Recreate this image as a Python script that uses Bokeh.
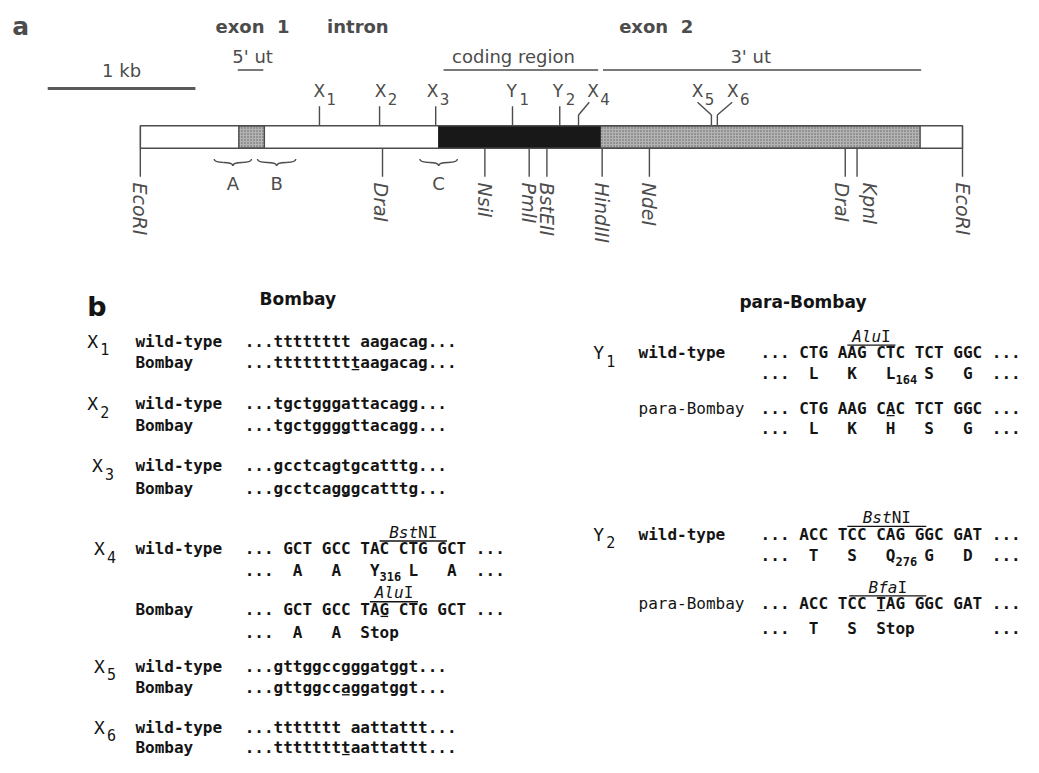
import numpy as np
from bokeh.plotting import figure
from bokeh.layouts import column
from bokeh.models import Range1d
from bokeh.core.properties import value
from bokeh.embed import file_html
from bokeh.resources import INLINE

# ---------------- data: gene map (positions in kb from the 5' EcoRI site) ----------------
gene_span = [0.0, 5.567]
exon1_box = [0.667, 0.840]
coding_box = [2.020, 3.113]
utr3_box = [3.113, 5.280]

region_names = ["5' ut", "coding region", "3' ut"]
region_start = [0.660, 2.053, 3.133]
region_end = [0.833, 3.100, 5.287]
region_label_pos = [0.760, 2.527, 4.133]

exon_labels = ["exon  1", "intron", "exon  2"]
exon_label_pos = [0.760, 1.473, 3.493]

site_names = ["EcoRI", "DraI", "NsiI", "PmlI", "BstEII", "HindIII", "NdeI", "DraI", "KpnI", "EcoRI"]
site_pos = [0.000, 1.640, 2.333, 2.633, 2.753, 3.127, 3.447, 4.773, 4.853, 5.567]
site_label_pos = [0.000, 1.633, 2.333, 2.633, 2.753, 3.127, 3.447, 4.753, 4.940, 5.573]

mut_letters = ["X", "X", "X", "Y", "Y", "X", "X", "X"]
mut_subs = ["1", "2", "3", "1", "2", "4", "5", "6"]
mut_pos = [1.213, 1.620, 2.000, 2.520, 2.840, 2.967, 3.867, 3.907]
mut_tip = [1.213, 1.620, 2.000, 2.520, 2.840, 3.040, 3.773, 4.007]
mut_label_pos = [1.173, 1.587, 1.940, 2.480, 2.793, 3.027, 3.733, 3.973]

probe_names = ["A", "B", "C"]
probe_start = [0.500, 0.793, 1.893]
probe_end = [0.753, 1.053, 2.147]

scale_bar = [-0.627, 0.373]   # 1 kb

# ---------------- data: sequences ----------------
bombay_subs = ["1", "2", "3", "4", "5", "6"]
bombay_wt = ["...tttttttt aagacag...", "...tgctgggattacagg...", "...gcctcagtgcatttg...",
             "... GCT GCC TAC CTG GCT ...", "...gttggccgggatggt...", "...ttttttt aattattt..."]
bombay_mut = ["...tttttttttaagacag...", "...tgctggggttacagg...", "...gcctcagggcatttg...",
              "... GCT GCC TAG CTG GCT ...", "...gttggccaggatggt...", "...ttttttttaattattt..."]
bombay_mut_idx = [11, 10, 10, 14, 10, 10]
x4_wt_aa = "...  A   A   Y   L   A  ..."
x4_wt_aa_sub = "316"
x4_mut_aa = "...  A   A  Stop"

para_subs = ["1", "2"]
para_wt = ["... CTG AAG CTC TCT GGC ...", "... ACC TCC CAG GGC GAT ..."]
para_wt_aa = ["...  L   K   L   S   G  ...", "...  T   S   Q   G   D  ..."]
para_wt_aa_sub = ["164", "276"]
para_mut = ["... CTG AAG CAC TCT GGC ...", "... ACC TCC TAG GGC GAT ..."]
para_mut_aa = ["...  L   K   H   S   G  ...", "...  T   S  Stop        ..."]
para_mut_idx = [13, 12]

# restriction sites on sequences: (italic part, roman part, first char, last char)
enz_italic = ["Bst", "Alu", "Alu", "Bst", "Bfa"]
enz_roman = ["NI", "I", "I", "NI", "I"]
enz_from = [14.0, 13.0, 9.0, 9.0, 9.2]
enz_to = [21.0, 18.0, 14.0, 17.2, 17.2]

# ---------------- styling / layout ----------------
GREY = "#4c4c4c"
INK = "#141414"
SANS = "DejaVu Sans"
MONO = "DejaVu Sans Mono"
NB = "\u00a0"

def nb(texts):
    return [t.replace(" ", NB) for t in texts]

W = 1023
XS = W / 1039.0            # page px per reference px (horizontal)

Y_EXON, Y_REG_TXT, Y_REG_LINE = 27, 57, 71
Y_MUT_TXT, MUT_TOP, STEM_TOP, ARM_TOP = 92, 108, 117, 104
BAR_TOP, BAR_BOT, TICK_BOT, LAB_TOP = 128, 151, 180, 186
BRACE_TOP, BRACE_H, PROBE_Y = 162, 7, 187

fa = figure(width=W, height=274, x_range=Range1d(-142 / 150, (1039 - 142) / 150), y_range=Range1d(280, 0),
            output_backend="svg", toolbar_location=None, min_border=0,
            x_axis_type=None, y_axis_type=None)
fa.grid.visible = False
fa.outline_line_color = None

def sans(fig, x, y, text, size, style="normal", align="center", color=GREY, angle=0.0, base="middle", **kw):
    fig.text(x=x, y=y, text=nb(text), text_font=value(SANS), text_font_size=size, text_font_style=style,
             text_align=align, text_baseline=base, text_color=color, angle=angle, **kw)

# panel label and headers
sans(fa, [-0.867], [Y_EXON], ["a"], "25px", "bold", "left")
sans(fa, exon_label_pos, [Y_EXON] * 3, exon_labels, "18px", "bold")
sans(fa, region_label_pos, [Y_REG_TXT] * 3, region_names, "18px")
fa.segment(x0=region_start, y0=[Y_REG_LINE] * 3, x1=region_end, y1=[Y_REG_LINE] * 3,
           line_color=GREY, line_width=1.6)

# scale bar
fa.segment(x0=[scale_bar[0]], y0=[90], x1=[scale_bar[1]], y1=[90], line_color="#5a5a5a", line_width=3)
sans(fa, [(scale_bar[0] + scale_bar[1]) / 2], [72], ["1 kb"], "18px")

# gene bar
whites_l = [gene_span[0], exon1_box[1], utr3_box[1]]
whites_r = [exon1_box[0], coding_box[0], gene_span[1]]
fa.quad(left=whites_l, right=whites_r, top=BAR_TOP, bottom=BAR_BOT, fill_color="white", line_color=None)
fa.quad(left=[exon1_box[0], utr3_box[0]], right=[exon1_box[1], utr3_box[1]], top=BAR_TOP, bottom=BAR_BOT,
        fill_color="#b4b4b4", hatch_pattern="dot", hatch_color="#5e5e5e", hatch_scale=3, hatch_weight=1,
        line_color=GREY, line_width=1.4)
fa.quad(left=[coding_box[0]], right=[coding_box[1]], top=BAR_TOP, bottom=BAR_BOT,
        fill_color="#181818", line_color="#181818")
fa.quad(left=[gene_span[0]], right=[gene_span[1]], top=BAR_TOP, bottom=BAR_BOT,
        fill_color=None, line_color=GREY, line_width=1.6)

# restriction sites below
fa.segment(x0=site_pos, y0=[BAR_BOT] * len(site_pos), x1=site_pos, y1=[TICK_BOT] * len(site_pos),
           line_color=GREY, line_width=1.4)
sans(fa, site_label_pos, [LAB_TOP] * len(site_pos), site_names, "19px", "italic", "left",
     angle=-np.pi / 2)

# mutation sites above
n = len(mut_pos)
straight = [i for i in range(n) if mut_pos[i] == mut_tip[i]]
bent = [i for i in range(n) if mut_pos[i] != mut_tip[i]]
fa.segment(x0=[mut_pos[i] for i in straight], y0=[BAR_TOP] * len(straight),
           x1=[mut_pos[i] for i in straight], y1=[MUT_TOP] * len(straight), line_color=GREY, line_width=1.4)
fa.segment(x0=[mut_pos[i] for i in bent], y0=[BAR_TOP] * len(bent),
           x1=[mut_pos[i] for i in bent], y1=[STEM_TOP] * len(bent), line_color=GREY, line_width=1.4)
fa.segment(x0=[mut_pos[i] for i in bent], y0=[STEM_TOP] * len(bent),
           x1=[mut_tip[i] for i in bent], y1=[ARM_TOP] * len(bent), line_color=GREY, line_width=1.4)
sans(fa, mut_label_pos, [Y_MUT_TXT] * n, mut_letters, "17px", "normal", "left")
sans(fa, mut_label_pos, [Y_MUT_TXT] * n, mut_subs, "15px", "normal", "left", x_offset=13, y_offset=8)

# probe braces
bx0, by0, bx1, by1, bcx, bcy = [], [], [], [], [], []
for s, e in zip(probe_start, probe_end):
    m = (s + e) / 2
    q1, q2 = s + (e - s) / 4, e - (e - s) / 4
    ym = BRACE_TOP + BRACE_H / 2
    for (xa, ya, xb, yb, cx, cy) in [(s, BRACE_TOP, q1, ym, s, ym), (q1, ym, m, BRACE_TOP + BRACE_H, m, ym),
                                     (m, BRACE_TOP + BRACE_H, q2, ym, m, ym), (q2, ym, e, BRACE_TOP, e, ym)]:
        bx0.append(xa); by0.append(ya); bx1.append(xb); by1.append(yb); bcx.append(cx); bcy.append(cy)
fa.quadratic(x0=bx0, y0=by0, x1=bx1, y1=by1, cx=bcx, cy=bcy, line_color=GREY, line_width=1.4)
sans(fa, [(s + e) / 2 for s, e in zip(probe_start, probe_end)], [PROBE_Y] * 3, probe_names, "18px")

# ---------------- panel b ----------------
fb = figure(width=W, height=483, x_range=Range1d(0, 1039), y_range=Range1d(773, 280),
            output_backend="svg", toolbar_location=None, min_border=0,
            x_axis_type=None, y_axis_type=None)
fb.grid.visible = False
fb.outline_line_color = None

CW = 16 * 0.6021 / XS  # monospace advance at 16px, in reference units
L_LAB, L_SEQ, R_LAB, R_SEQ = 137, 248, 648, 772

def mono(x, y, text, size="16px", style="bold", align="left", color=INK, **kw):
    fb.text(x=x, y=y, text=nb(text), text_font=value(MONO), text_font_size=size, text_font_style=style,
            text_align=align, text_baseline="middle", text_color=color, **kw)

sans(fb, [88], [313], ["b"], "27px", "bold", "left", color=INK)
sans(fb, [302], [305], ["Bombay"], "17px", "bold", color=INK)
sans(fb, [815], [308], ["para-Bombay"], "17px", "bold", color=INK)

# Bombay rows
wt_y = [348, 412, 475, 560, 680, 742]
mut_y = [370, 434, 498, 622, 702, 763]
id_x = [88, 88, 93, 95, 95, 95]
mono(id_x, wt_y, ["X"] * 6, "18px", "normal")
mono(id_x, wt_y, bombay_subs, "15px", "normal", x_offset=13, y_offset=8)
mono([L_LAB] * 6, wt_y, ["wild-type"] * 6)
mono([L_LAB] * 6, mut_y, ["Bombay"] * 6)
mono([L_SEQ] * 6, wt_y, bombay_wt)
mono([L_SEQ] * 6, mut_y, bombay_mut)
fb.segment(x0=[L_SEQ + i * CW + 1 for i in bombay_mut_idx], y0=[y + 7 for y in mut_y],
           x1=[L_SEQ + (i + 1) * CW - 1 for i in bombay_mut_idx], y1=[y + 7 for y in mut_y],
           line_color=INK, line_width=1.3)
mono([L_SEQ], [582], [x4_wt_aa])
mono([L_SEQ + 14 * CW], [582], [x4_wt_aa_sub], "12px", y_offset=6)
mono([L_SEQ], [645], [x4_mut_aa])

# para-Bombay rows
p_wt_y = [360, 545]
p_wt_aa_y = [381, 567]
p_mut_y = [417, 616]
p_mut_aa_y = [437, 641]
mono([602] * 2, p_wt_y, ["Y"] * 2, "18px", "normal")
mono([602] * 2, p_wt_y, para_subs, "15px", "normal", x_offset=13, y_offset=8)
mono([R_LAB] * 2, p_wt_y, ["wild-type"] * 2)
mono([R_LAB] * 2, p_mut_y, ["para-Bombay"] * 2, style="normal")
mono([R_SEQ] * 2, p_wt_y, para_wt)
mono([R_SEQ] * 2, p_wt_aa_y, para_wt_aa)
mono([R_SEQ + 14 * CW] * 2, p_wt_aa_y, para_wt_aa_sub, "12px", y_offset=6)
mono([R_SEQ] * 2, p_mut_y, para_mut)
mono([R_SEQ] * 2, p_mut_aa_y, para_mut_aa)
fb.segment(x0=[R_SEQ + i * CW + 1 for i in para_mut_idx], y0=[y + 7 for y in p_mut_y],
           x1=[R_SEQ + (i + 1) * CW - 1 for i in para_mut_idx], y1=[y + 7 for y in p_mut_y],
           line_color=INK, line_width=1.3)

# restriction site overlines and labels
enz_start = [L_SEQ, L_SEQ, R_SEQ, R_SEQ, R_SEQ]
enz_row_y = [560, 622, 360, 545, 616]
ex0 = [s + a * CW for s, a in zip(enz_start, enz_from)]
ex1 = [s + b * CW for s, b in zip(enz_start, enz_to)]
ey = [y - 8 for y in enz_row_y]
fb.segment(x0=ex0, y0=ey, x1=ex1, y1=ey, line_color=INK, line_width=1.3)
lab_w = [(len(a) + len(b)) * CW for a, b in zip(enz_italic, enz_roman)]
lab_x = [(a + b) / 2 - w / 2 for a, b, w in zip(ex0, ex1, lab_w)]
lab_y = [y - 9 for y in ey]
mono(lab_x, lab_y, enz_italic, style="italic")
mono([x + len(a) * CW for x, a in zip(lab_x, enz_italic)], lab_y, enz_roman, style="normal")

layout = column(fa, fb, spacing=0)
open("out.html", "w").write(file_html(layout, INLINE))
